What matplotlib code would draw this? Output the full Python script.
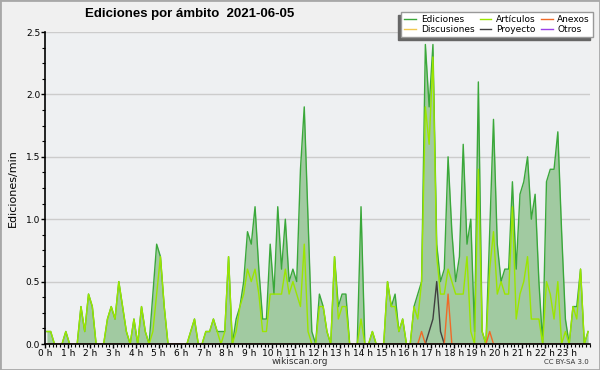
"""
Ediciones por ámbito (wikiscan), 2021-06-05, pasos de 10 minutos
"""
import numpy as np
import matplotlib
matplotlib.use("Agg")
import matplotlib.pyplot as plt
from matplotlib.patches import Rectangle
from matplotlib.ticker import MultipleLocator, FormatStrFormatter
from matplotlib.transforms import IdentityTransform

TITLE = "Ediciones por ámbito  2021-06-05"
YLABEL = "Ediciones/min"
HOUR_LABELS = [f"{h} h" for h in range(24)]

# ediciones/min por tramo de 10 min, una fila por hora
EDICIONES = [
    0.1, 0.1, 0, 0, 0, 0.1,
    0, 0, 0, 0.3, 0.1, 0.4,
    0.3, 0, 0, 0, 0.2, 0.3,
    0.2, 0.5, 0.3, 0.1, 0, 0.2,
    0, 0.3, 0.1, 0, 0.4, 0.8,
    0.7, 0.3, 0, 0, 0, 0,
    0, 0, 0.1, 0.2, 0, 0,
    0.1, 0.1, 0.2, 0.1, 0.1, 0.1,
    0.7, 0, 0.2, 0.3, 0.5, 0.9,
    0.8, 1.1, 0.6, 0.2, 0.2, 0.8,
    0.4, 1.1, 0.6, 1.0, 0.5, 0.6,
    0.5, 1.4, 1.9, 1.0, 0.1, 0,
    0.4, 0.3, 0.1, 0, 0.7, 0.3,
    0.4, 0.4, 0, 0, 0, 1.1,
    0, 0, 0.1, 0, 0, 0,
    0.5, 0.3, 0.4, 0.1, 0.2, 0,
    0, 0.3, 0.4, 0.5, 2.4, 1.9,
    2.4, 0.8, 0.5, 0.6, 1.5, 0.9,
    0.5, 0.7, 1.6, 0.8, 1.0, 0.1,
    2.1, 0.1, 0, 0.9, 1.8, 0.8,
    0.5, 0.6, 0.6, 1.3, 0.6, 1.2,
    1.3, 1.5, 1.0, 1.2, 0.5, 0,
    1.3, 1.4, 1.4, 1.7, 0.9, 0.2,
    0, 0.3, 0.3, 0.6, 0, 0.1,
]

ARTICULOS = [
    0.1, 0.1, 0, 0, 0, 0.1,
    0, 0, 0, 0.3, 0.1, 0.4,
    0.3, 0, 0, 0, 0.2, 0.3,
    0.2, 0.5, 0.3, 0.1, 0, 0.2,
    0, 0.3, 0.1, 0, 0.1, 0.4,
    0.7, 0.3, 0, 0, 0, 0,
    0, 0, 0.1, 0.2, 0, 0,
    0.1, 0.1, 0.2, 0.1, 0, 0.1,
    0.7, 0, 0.1, 0.3, 0.4, 0.6,
    0.5, 0.6, 0.4, 0.1, 0.1, 0.4,
    0.4, 0.4, 0.4, 0.6, 0.4, 0.5,
    0.4, 0.3, 0.8, 0.1, 0, 0,
    0.3, 0.3, 0.1, 0, 0.7, 0.2,
    0.3, 0.3, 0, 0, 0, 0.2,
    0, 0, 0.1, 0, 0, 0,
    0.5, 0.3, 0.3, 0.1, 0.2, 0,
    0, 0.3, 0.2, 0.5, 1.9, 1.6,
    2.3, 0.7, 0.4, 0.4, 0.6, 0.5,
    0.4, 0.4, 0.4, 0.7, 0.1, 0,
    1.4, 0.1, 0, 0.6, 0.9, 0.4,
    0.5, 0.4, 0.4, 1.1, 0.2, 0.4,
    0.5, 0.7, 0.2, 0.2, 0.2, 0,
    0.5, 0.4, 0.2, 0.5, 0, 0.1,
    0, 0.3, 0.2, 0.6, 0, 0.1,
]

# solo aparecen entre las 16 h y las 20 h
PROYECTO_16_20 = [
    0, 0, 0, 0, 0, 0.1,
    0.2, 0.5, 0.1, 0, 0, 0,
    0, 0, 0, 0, 0, 0,
    0, 0, 0, 0, 0, 0,
]
ANEXOS_16_20 = [
    0, 0, 0, 0.1, 0, 0,
    0, 0, 0, 0, 0.4, 0,
    0, 0, 0, 0, 0, 0,
    0, 0, 0, 0.1, 0, 0,
]
ZEROS_16 = [0] * 96
ZEROS_4 = [0] * 24
PROYECTO = ZEROS_16 + PROYECTO_16_20 + ZEROS_4
ANEXOS = ZEROS_16 + ANEXOS_16_20 + ZEROS_4
DISCUSIONES = [0] * 144
OTROS = [0] * 144

C_EDIC = "#3aa83a"
C_FILL = "#a1caa1"
C_ART = "#9be600"
C_DISC = "#f0c850"
C_PROY = "#404040"
C_ANEX = "#f06a28"
C_OTROS = "#9a40e8"


def main():
    t = (np.arange(len(EDICIONES)) + 0.5) / 6.0

    fig = plt.figure(figsize=(6, 3.7), dpi=100, facecolor="#f0f0f0")
    ax = fig.add_axes([45 / 600, 1 - 344 / 370, 545 / 600, 312 / 370])
    ax.set_facecolor("#eef0f2")

    ax.fill_between(t, EDICIONES, 0, color=C_FILL, lw=0, zorder=1)
    l_ed, = ax.plot(t, EDICIONES, color=C_EDIC, lw=1.0, zorder=3)
    l_di, = ax.plot(t, DISCUSIONES, color=C_DISC, lw=1.0, zorder=3)
    l_ar, = ax.plot(t, ARTICULOS, color=C_ART, lw=1.0, zorder=4)
    l_pr, = ax.plot(t, PROYECTO, color=C_PROY, lw=1.0, zorder=5)
    l_an, = ax.plot(t, ANEXOS, color=C_ANEX, lw=1.0, zorder=5)
    l_ot, = ax.plot(t, OTROS, color=C_OTROS, lw=1.0, zorder=5)

    ax.set_xlim(0, 24)
    ax.set_ylim(0, 2.5)
    ax.set_xticks(range(24))
    ax.set_xticklabels(HOUR_LABELS)
    ax.xaxis.set_minor_locator(MultipleLocator(1 / 6))
    ax.yaxis.set_major_locator(MultipleLocator(0.5))
    ax.yaxis.set_minor_locator(MultipleLocator(0.125))
    ax.yaxis.set_major_formatter(FormatStrFormatter("%.1f"))
    ax.tick_params(which="major", length=3, width=1, labelsize=6.5, pad=0.5)
    ax.tick_params(which="minor", length=2.2, width=0.8)
    ax.grid(axis="y", color="#cccccc", lw=1)
    ax.set_axisbelow(True)
    for side in ("top", "right"):
        ax.spines[side].set_visible(False)
    for side in ("left", "bottom"):
        ax.spines[side].set_linewidth(1.2)
        ax.spines[side].set_zorder(6)
    ax.set_ylabel(YLABEL, fontsize=8, labelpad=6)

    fig.text(85 / 600, 1 - 14 / 370, TITLE, fontsize=9.5, fontweight="bold",
             family=["Liberation Sans", "DejaVu Sans"],
             ha="left", va="center")
    fig.text(300 / 600, 1 - 362 / 370, "wikiscan.org", fontsize=6.5,
             ha="center", va="center", color="#333333")
    fig.text(589 / 600, 1 - 362 / 370, "CC BY-SA 3.0", fontsize=5,
             ha="right", va="center", color="#333333")

    leg = fig.legend([l_ed, l_di, l_ar, l_pr, l_an, l_ot],
                     ["Ediciones", "Discusiones", "Artículos", "Proyecto",
                      "Anexos", "Otros"],
                     ncol=3, loc="upper right",
                     bbox_to_anchor=(593 / 600, 1 - 12 / 370),
                     fontsize=6.5, fancybox=False, framealpha=1,
                     handlelength=1.3, handletextpad=0.5, columnspacing=0.6,
                     labelspacing=0.1, borderpad=0.35, borderaxespad=0)
    leg.get_frame().set_edgecolor("#999999")
    leg.get_frame().set_linewidth(1)
    leg.set_zorder(10)

    fig.canvas.draw()
    bb = leg.get_window_extent()
    shadow = Rectangle((bb.x0 - 3, bb.y0 - 3), bb.width, bb.height,
                       transform=IdentityTransform(), color="#666666",
                       zorder=9)
    fig.add_artist(shadow)

    fig.add_artist(Rectangle((0, 0), 1, 1, transform=fig.transFigure,
                             fill=False, edgecolor="#a8a8a8", lw=2))

    plt.savefig("out.png", dpi=100, facecolor=fig.get_facecolor())
    plt.close()


if __name__ == "__main__":
    main()
